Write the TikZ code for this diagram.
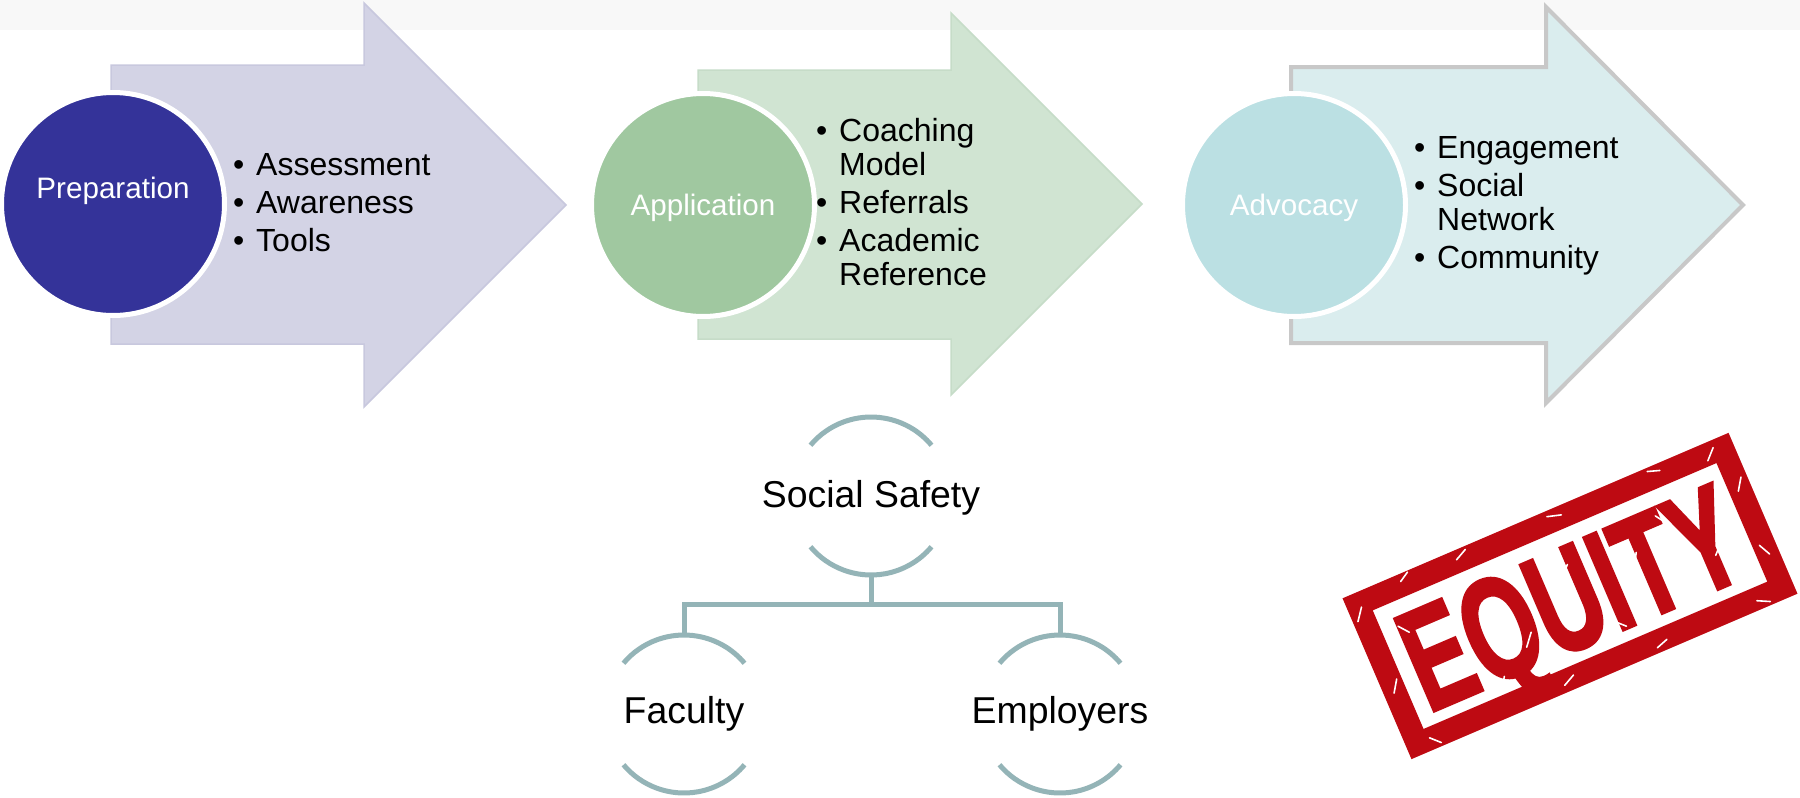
\documentclass[tikz,border=0pt]{standalone}
\usepackage{fontspec}
\setmainfont{Liberation Sans}
\newfontfamily\stampfont{Liberation Sans Bold}[FakeBold=2.5]
\usetikzlibrary{calc}
\definecolor{aOne}{RGB}{211,211,229}
\definecolor{aOneEdge}{RGB}{200,200,222}
\definecolor{cOne}{RGB}{52,51,153}
\definecolor{aTwo}{RGB}{208,228,210}
\definecolor{aTwoEdge}{RGB}{198,220,200}
\definecolor{cTwo}{RGB}{160,200,160}
\definecolor{aThree}{RGB}{218,237,238}
\definecolor{aThreeEdge}{RGB}{200,200,200}
\definecolor{cThree}{RGB}{187,224,227}
\definecolor{hierLine}{RGB}{148,180,183}
\definecolor{stampred}{RGB}{190,10,18}
\definecolor{topband}{RGB}{248,248,248}
\tikzset{
  bigarrow/.style={line width=1.5pt, line join=miter},
  disc/.style={circle, draw=white, line width=5pt, minimum size=223pt, inner sep=0},
  clab/.style={text=white, font=\fontsize{29.6}{31}\selectfont, inner sep=0, text height=7.3pt, text depth=2.1pt},
  bul/.style={anchor=west, inner sep=0, font=\fontsize{32}{34}\selectfont, text=black},
  ring/.style={circle, minimum size=158pt, inner sep=0, outer sep=0},
  htext/.style={font=\fontsize{37.4}{40}\selectfont, inner sep=0, text=black},
  hline/.style={draw=hierLine, line width=5pt},
  scratch/.style={draw=white, line width=1.6pt, line cap=round},
}
\newcommand{\bitem}{\makebox[23pt][l]{\textbullet}}
\begin{document}
\begin{tikzpicture}[x=1pt,y=1pt]
\useasboundingbox (0,-798) rectangle (1800,0);
\fill[white] (0,-798) rectangle (1800,0);
\fill[topband] (0,-30) rectangle (1800,0);
% arrows
\draw[bigarrow, fill=aOne, draw=aOneEdge] (111,-65) -- (364,-65) -- (364,-3) -- (566,-205) -- (364,-407) -- (364,-344) -- (111,-344) -- cycle;
\draw[bigarrow, fill=aTwo, draw=aTwoEdge] (698,-70) -- (951,-70) -- (951,-13) -- (1142,-204) -- (951,-395) -- (951,-339) -- (698,-339) -- cycle;
\draw[bigarrow, fill=aThree, draw=aThreeEdge, line width=4pt] (1291,-67) -- (1546,-67) -- (1546,-7) -- (1743,-205) -- (1546,-403) -- (1546,-343) -- (1291,-343) -- cycle;
% circles
\node[disc, fill=cOne] (c1) at (113,-204) {};
\node[disc, fill=cTwo] (c2) at (703,-205) {};
\node[disc, fill=cThree] (c3) at (1294,-205) {};
\node[clab] (t1) at (113,-196) {Preparation};
\node[clab] (t2) at (703,-213) {Application};
\node[clab] (t3) at (1294,-213) {Advocacy};
% bullet lists
\node[bul] (l1) at (233,-207) {\begin{tabular}{@{}l@{}l@{}}\bitem&Assessment\\[4pt]\textbullet&Awareness\\[4pt]\textbullet&Tools\end{tabular}};
\node[bul] (l2) at (816,-207) {\begin{tabular}{@{}l@{}l@{}}\bitem&Coaching\\&Model\\[4pt]\textbullet&Referrals\\[4pt]\textbullet&Academic\\&Reference\end{tabular}};
\node[bul] (l3) at (1414,-207) {\begin{tabular}{@{}l@{}l@{}}\bitem&Engagement\\[4pt]\textbullet&Social\\&Network\\[4pt]\textbullet&Community\end{tabular}};
% hierarchy
\node[ring] (ssR) at (871,-496) {};
\node[ring] (facR) at (684,-714) {};
\node[ring] (empR) at (1060,-714) {};
\node[htext] (ss) at ($(ssR)+(0,-2)$) {Social Safety};
\node[htext] (fac) at (facR) {Faculty};
\node[htext] (emp) at (empR) {Employers};
\foreach \r in {ssR,facR,empR}{
  \draw[hline] (\r.140) arc[start angle=140, end angle=40, radius=79pt];
  \draw[hline] (\r.220) arc[start angle=220, end angle=320, radius=79pt];
}
\draw[hline] (ssR.south) -- ++(0,-29) -| (facR.north);
\draw[hline] (ssR.south) -- ++(0,-29) -| (empR.north);
% stamp
\node[draw=stampred, line width=23pt, rotate=23.2, minimum width=397pt, minimum height=152pt, inner sep=0] (stamp) at (1570,-596) {};
\node[rotate=23.2, text=stampred, inner sep=0, text height=104pt, text depth=0pt, font=\stampfont\fontsize{145}{145}\selectfont] (eq) at (stamp.center) {\scalebox{0.655}[1]{EQUITY}};
\begin{scope}[shift={(stamp.center)}, rotate=23.2]
  \foreach \ax/\ay/\bx/\by in {-205/60/-196/72, -200/-20/-192/-8, -185/-75/-176/-84, -150/80/-140/86, -90/78/-78/84, -40/-80/-28/-74, 10/82/24/78, 60/-82/72/-78, 120/84/132/80, 170/-78/182/-84, 196/30/204/42, 200/-40/194/-28, 150/-20/162/-8, -130/10/-120/22, -60/-30/-50/-18, 0/20/10/30, 70/0/78/14, 110/40/118/28, -100/-60/-92/-48, 40/-50/30/-40, 180/70/190/80, -170/40/-162/30}
    \draw[scratch] (\ax,\ay) -- (\bx,\by);
\end{scope}
\end{tikzpicture}
\end{document}
